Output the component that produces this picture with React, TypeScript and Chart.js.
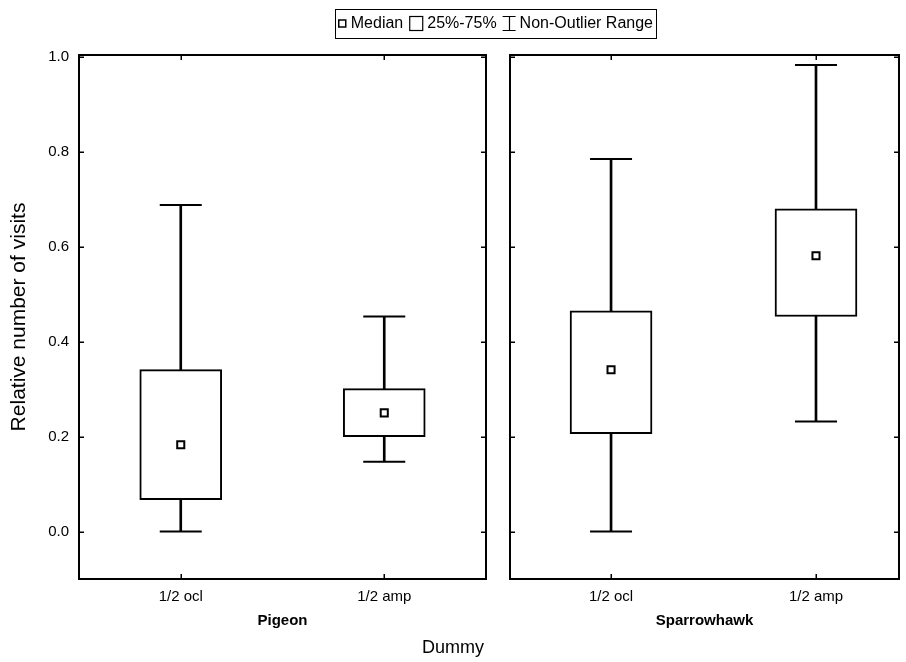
import React, { useEffect, useRef } from 'react';
import { Chart, registerables } from 'chart.js';

Chart.register(...registerables);

// ---- data ----
const CATEGORIES = ['1/2 ocl', '1/2 amp'];
const PANEL_TITLES = ['Pigeon', 'Sparrowhawk'];
const Y_TICKS = [0, 0.2, 0.4, 0.6, 0.8, 1.0];

const PIGEON_MIN = [0.0, 0.147];
const PIGEON_Q1 = [0.067, 0.2];
const PIGEON_MEDIAN = [0.183, 0.25];
const PIGEON_Q3 = [0.341, 0.301];
const PIGEON_MAX = [0.688, 0.453];

const HAWK_MIN = [0.0, 0.232];
const HAWK_Q1 = [0.206, 0.453];
const HAWK_MEDIAN = [0.341, 0.581];
const HAWK_Q3 = [0.465, 0.68];
const HAWK_MAX = [0.785, 0.983];

const LEGEND_LABELS = ['Median', '25%-75%', 'Non-Outlier Range'];
const X_TITLE = 'Dummy';
const Y_TITLE = 'Relative number of visits';

const FONT = '"Liberation Sans", Arial, sans-serif';

function buildDatasets(mins: number[], q1: number[], med: number[], q3: number[], maxs: number[]) {
  const idx = CATEGORIES.map((_, i) => i);
  return [
    {
      type: 'bar',
      label: 'whisker',
      data: idx.map((i) => ({ x: i, y: [mins[i], maxs[i]] })),
      backgroundColor: '#000',
      borderWidth: 0,
      barThickness: 2,
      grouped: false,
      order: 4,
    },
    {
      type: 'bar',
      label: 'box',
      data: idx.map((i) => ({ x: i, y: [q1[i], q3[i]] })),
      backgroundColor: '#fff',
      borderColor: '#000',
      borderWidth: 2,
      borderSkipped: false,
      barThickness: 82,
      grouped: false,
      order: 3,
    },
    {
      type: 'line',
      label: 'capMax',
      data: idx.map((i) => ({ x: i, y: maxs[i] })),
      showLine: false,
      pointStyle: 'line',
      pointRadius: 21,
      pointBorderWidth: 2,
      pointBorderColor: '#000',
      order: 2,
    },
    {
      type: 'line',
      label: 'capMin',
      data: idx.map((i) => ({ x: i, y: mins[i] })),
      showLine: false,
      pointStyle: 'line',
      pointRadius: 21,
      pointBorderWidth: 2,
      pointBorderColor: '#000',
      order: 2,
    },
    {
      type: 'line',
      label: 'median',
      data: idx.map((i) => ({ x: i, y: med[i] })),
      showLine: false,
      pointStyle: 'rect',
      pointRadius: 5,
      pointBorderWidth: 2,
      pointBorderColor: '#000',
      pointBackgroundColor: '#fff',
      order: 1,
    },
  ];
}

const TICK_LEN = 5;

const framePlugin = {
  id: 'panelFrame',
  afterDatasetsDraw(chart: any) {
    const { ctx, chartArea } = chart;
    const { left, right, top, bottom } = chartArea;
    const x = chart.scales.x;
    const y = chart.scales.y;
    ctx.save();
    ctx.strokeStyle = '#000';
    ctx.lineWidth = 2;
    ctx.strokeRect(left, top, right - left, bottom - top);
    ctx.lineWidth = 1.5;
    ctx.beginPath();
    y.ticks.forEach((t: any) => {
      const py = Math.round(y.getPixelForValue(t.value)) + 0.25;
      ctx.moveTo(left, py);
      ctx.lineTo(left + TICK_LEN, py);
      ctx.moveTo(right, py);
      ctx.lineTo(right - TICK_LEN, py);
    });
    x.ticks.forEach((t: any) => {
      const px = Math.round(x.getPixelForValue(t.value)) + 0.25;
      ctx.moveTo(px, bottom);
      ctx.lineTo(px, bottom - TICK_LEN);
      ctx.moveTo(px, top);
      ctx.lineTo(px, top + TICK_LEN);
    });
    ctx.stroke();
    ctx.restore();
  },
};

const legendPlugin = {
  id: 'boxLegend',
  afterDraw(chart: any) {
    const { ctx } = chart;
    ctx.save();
    ctx.font = `16px ${FONT}`;
    ctx.fillStyle = '#000';
    ctx.strokeStyle = '#000';
    ctx.textBaseline = 'middle';
    ctx.textAlign = 'left';
    const iconW = [9, 14, 13];
    const gapIcon = 4;
    const gapItem = 6;
    const widths = LEGEND_LABELS.map((l) => ctx.measureText(l).width);
    let total = 0;
    LEGEND_LABELS.forEach((_, i) => {
      total += iconW[i] + gapIcon + widths[i];
      if (i < LEGEND_LABELS.length - 1) total += gapItem;
    });
    const pad = 3;
    const boxRight = 656;
    const boxLeft = boxRight - total - pad * 2;
    const boxTop = 9;
    const boxH = 29;
    const cy = boxTop + boxH / 2;
    ctx.lineWidth = 1;
    ctx.strokeRect(Math.round(boxLeft) + 0.5, boxTop + 0.5, Math.round(total + pad * 2), boxH);
    let cx = boxLeft + pad;
    LEGEND_LABELS.forEach((label, i) => {
      const w = iconW[i];
      ctx.beginPath();
      if (i === 0) {
        ctx.lineWidth = 1.5;
        ctx.strokeRect(cx + 1, cy - 3.5, 7, 7);
      } else if (i === 1) {
        ctx.lineWidth = 1.2;
        ctx.strokeRect(cx + 0.5, cy - 7, 13, 14);
      } else {
        ctx.lineWidth = 1.2;
        const mid = Math.round(cx + w / 2) + 0.5;
        ctx.moveTo(cx, cy - 7);
        ctx.lineTo(cx + w, cy - 7);
        ctx.moveTo(mid, cy - 7);
        ctx.lineTo(mid, cy + 7);
        ctx.moveTo(cx, cy + 7);
        ctx.lineTo(cx + w, cy + 7);
        ctx.stroke();
      }
      cx += w + gapIcon;
      ctx.fillText(label, cx, cy);
      cx += widths[i] + gapItem;
    });
    ctx.font = `18px ${FONT}`;
    ctx.textAlign = 'center';
    ctx.fillText(X_TITLE, 453, 648);
    ctx.restore();
  },
};

function makeConfig(panel: number, canvasW: number) {
  const isLeft = panel === 0;
  const data = isLeft
    ? buildDatasets(PIGEON_MIN, PIGEON_Q1, PIGEON_MEDIAN, PIGEON_Q3, PIGEON_MAX)
    : buildDatasets(HAWK_MIN, HAWK_Q1, HAWK_MEDIAN, HAWK_Q3, HAWK_MAX);
  return {
    type: 'bar',
    data: { datasets: data },
    plugins: isLeft ? [framePlugin, legendPlugin] : [framePlugin],
    options: {
      animation: false,
      responsive: false,
      events: [],
      layout: {
        autoPadding: false,
        padding: { left: 0, top: 55, right: isLeft ? canvasW - 486 : 7, bottom: 0 },
      },
      plugins: { legend: { display: false }, tooltip: { enabled: false }, title: { display: false } },
      scales: {
        x: {
          type: 'linear',
          min: isLeft ? -0.5 : -0.493,
          max: isLeft ? 1.5 : 1.405,
          offset: false,
          grid: { display: false, drawTicks: false, offset: false },
          border: { display: false },
          afterBuildTicks: (scale: any) => {
            scale.ticks = CATEGORIES.map((_, i) => ({ value: i }));
          },
          afterFit: (scale: any) => {
            scale.height = 83;
            scale.paddingLeft = 0;
            scale.paddingRight = 0;
          },
          ticks: {
            padding: 9,
            maxRotation: 0,
            autoSkip: false,
            color: '#000',
            font: { family: FONT, size: 15 },
            callback: (v: any) => CATEGORIES[Math.round(v)] ?? '',
          },
          title: {
            display: true,
            text: PANEL_TITLES[panel],
            color: '#000',
            font: { family: FONT, size: 15, weight: 'bold' },
            padding: { top: 0, bottom: 32 },
          },
        },
        y: {
          type: 'linear',
          min: -0.1,
          max: 1.004,
          grid: { display: false, drawTicks: false },
          border: { display: false },
          afterBuildTicks: (scale: any) => {
            scale.ticks = Y_TICKS.map((v) => ({ value: v }));
          },
          afterFit: (scale: any) => {
            scale.width = isLeft ? 79 : 15;
          },
          ticks: {
            display: isLeft,
            padding: 10,
            color: '#000',
            font: { family: FONT, size: 15 },
            callback: (v: any) => Number(v).toFixed(1),
          },
          title: {
            display: isLeft,
            text: Y_TITLE,
            color: '#000',
            font: { family: FONT, size: 21 },
            padding: { top: 7, bottom: 0 },
          },
        },
      },
    },
  } as any;
}

export default function App() {
  const leftRef = useRef<HTMLCanvasElement>(null);
  const rightRef = useRef<HTMLCanvasElement>(null);

  useEffect(() => {
    const c1 = new Chart(leftRef.current as HTMLCanvasElement, makeConfig(0, 906));
    const c2 = new Chart(rightRef.current as HTMLCanvasElement, makeConfig(1, 411));
    return () => {
      c1.destroy();
      c2.destroy();
    };
  }, []);

  return (
    <div style={{ position: 'absolute', left: 0, top: 0, width: 906, height: 662, background: '#fff' }}>
      <canvas
        ref={leftRef}
        width={906}
        height={662}
        style={{ position: 'absolute', left: 0, top: 0, width: 906, height: 662 }}
      />
      <canvas
        ref={rightRef}
        width={411}
        height={662}
        style={{ position: 'absolute', left: 495, top: 0, width: 411, height: 662 }}
      />
    </div>
  );
}
